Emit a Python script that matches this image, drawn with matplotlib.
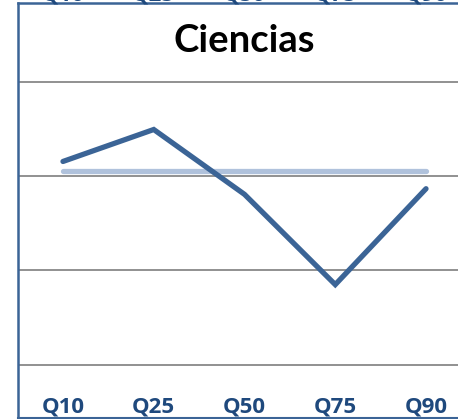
import matplotlib.pyplot as plt
from matplotlib.transforms import blended_transform_factory

# quantile categories and values (grid step = 1 unit)
quantiles = ['Q10', 'Q25', 'Q50', 'Q75', 'Q90']
ciencias = [0.16, 0.50, -0.19, -1.15, -0.13]
promedio = [0.06, 0.06, 0.06, 0.06, 0.06]
grid_values = [-2, -1, 0, 1]

W, H = 458, 419
fig = plt.figure(figsize=(W / 100, H / 100), dpi=100)

# plot area extends past the right edge of the crop
x0, x1 = 17.6, 471.4
ytop, ybot = 3.5, 418
ax = fig.add_axes([x0 / W, 1 - ybot / H, (x1 - x0) / W, (ybot - ytop) / H])

xs = list(range(len(quantiles)))
ax.plot(xs, promedio, color='#B0C2DC', lw=3.8, solid_capstyle='round', zorder=3)
ax.plot(xs, ciencias, color='#3B6496', lw=3.8, solid_capstyle='round',
        solid_joinstyle='miter', zorder=4)

ax.set_xlim(-0.5, 4.5)
ax.set_ylim(-241.5 / 94, 173 / 94)
ax.set_yticks(grid_values)
ax.set_yticklabels([])
ax.tick_params(axis='y', length=0)
ax.grid(axis='y', color='#888888', lw=1.3)
ax.set_axisbelow(True)

ax.set_xticks(xs)
ax.set_xticklabels([])
ax.tick_params(axis='x', length=0)

for side in ['left', 'top', 'bottom']:
    ax.spines[side].set_color('#3B6496')
ax.spines['left'].set_linewidth(1.8)
ax.spines['top'].set_linewidth(1.8)
ax.spines['bottom'].set_linewidth(1.5)
ax.spines['right'].set_visible(False)

fam = ['Open Sans', 'DejaVu Sans']
tr = blended_transform_factory(ax.transData, fig.transFigure)
for x, lab in zip(xs, quantiles):
    # labels sit inside the plot area, just above the bottom axis
    ax.text(x, 1 - 412 / H, lab, transform=tr, ha='center', va='baseline',
            fontsize=16, fontweight='bold', color='#1F497D', family=fam)
    # cut-off labels of the chart above
    ax.text(x, 1 - 1 / H, lab, transform=tr, ha='center', va='baseline',
            fontsize=16, fontweight='bold', color='#1F497D', family=fam,
            clip_on=False)

fig.text(244 / W, 1 - 52 / H, 'Ciencias', ha='center', va='baseline',
         fontsize=27.5, fontweight='bold', color='black',
         family=['Lato', 'DejaVu Sans'])

fig.savefig('out.png', dpi=100)
